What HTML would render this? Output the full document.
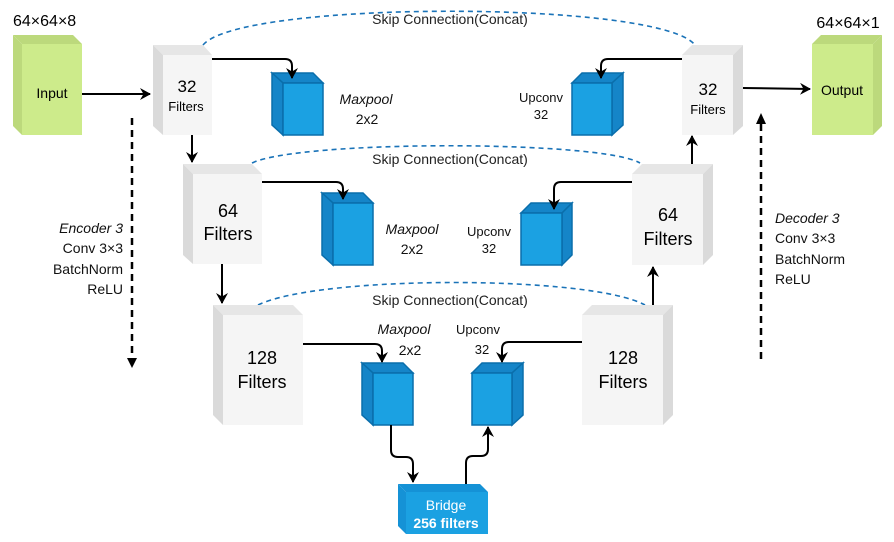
<!DOCTYPE html>
<html><head><meta charset="utf-8"><style>
html,body{margin:0;padding:0;background:#fff;}
svg{display:block;font-family:"Liberation Sans",sans-serif;}
.g1{fill:#f5f5f5}.g2{fill:#e6e6e6}.g3{fill:#dadada}
.b1{fill:#1ba1e2;stroke:#0a6eab;stroke-width:1.5}.b2{fill:#1585c8;stroke:#0a6eab;stroke-width:1.5}
.c1{fill:#cdeb8b}.c2{fill:#bcd97c}
.ln{fill:none;stroke:#000;stroke-width:2}
.sk{fill:none;stroke:#1a73b8;stroke-width:1.6;stroke-dasharray:5,4}
.dd{fill:none;stroke:#000;stroke-width:2.5;stroke-dasharray:7,5}
</style></head><body>
<svg width="894" height="542" viewBox="0 0 894 542">
<defs><marker id="a" markerWidth="12" markerHeight="12" refX="10" refY="6" orient="auto" markerUnits="userSpaceOnUse"><path d="M0,0 L11,6 L0,12 L3.5,6z" fill="#000"/></marker></defs>

<path class="sk" d="M203,45 C240,0 660,0 695,45"/>
<path class="sk" d="M252,163 C300,140 600,140 640,163"/>
<path class="sk" d="M258,305 C320,275 590,275 645,305"/>
<g font-size="14" fill="#222" text-anchor="middle">
<text x="450" y="24">Skip Connection(Concat)</text>
<text x="450" y="164">Skip Connection(Concat)</text>
<text x="450" y="305">Skip Connection(Concat)</text>
</g>

<polygon class="c2" points="13,35 73,35 82,44 22,44"/>
<polygon class="c2" points="13,35 22,44 22,135 13,126"/>
<rect class="c1" x="22" y="44" width="60" height="91"/>
<text x="52" y="98" font-size="14" text-anchor="middle">Input</text>
<text x="13" y="26" font-size="16">64×64×8</text>

<polygon class="c2" points="821,35 882,35 873,44 812,44"/>
<polygon class="c2" points="882,35 882,126 873,135 873,44"/>
<rect class="c1" x="812" y="44" width="61" height="91"/>
<text x="842" y="95" font-size="14" text-anchor="middle">Output</text>
<text x="848" y="28" font-size="16" text-anchor="middle">64×64×1</text>

<polygon class="g2" points="153,45 203,45 212,55 163,55"/>
<polygon class="g3" points="153,45 163,55 163,135 153,126"/>
<rect class="g1" x="163" y="55" width="49" height="80"/>
<text x="187" y="92" font-size="17" text-anchor="middle">32</text>
<text x="186" y="111" font-size="13" text-anchor="middle">Filters</text>

<polygon class="g2" points="692,45 743,45 733,55 682,55"/>
<polygon class="g3" points="743,45 743,126 733,135 733,55"/>
<rect class="g1" x="682" y="55" width="51" height="80"/>
<text x="708" y="95" font-size="17" text-anchor="middle">32</text>
<text x="708" y="114" font-size="13" text-anchor="middle">Filters</text>

<polygon class="g2" points="183,164 252,164 262,174 193,174"/>
<polygon class="g3" points="183,164 193,174 193,264 183,255"/>
<rect class="g1" x="193" y="174" width="69" height="90"/>
<text x="228" y="217" font-size="18" text-anchor="middle">64</text>
<text x="228" y="240" font-size="18" text-anchor="middle">Filters</text>

<polygon class="g2" points="642,164 713,164 703,174 632,174"/>
<polygon class="g3" points="713,164 713,255 703,265 703,174"/>
<rect class="g1" x="632" y="174" width="71" height="91"/>
<text x="668" y="221" font-size="18" text-anchor="middle">64</text>
<text x="668" y="245" font-size="18" text-anchor="middle">Filters</text>

<polygon class="g2" points="213,305 293,305 303,315 223,315"/>
<polygon class="g3" points="213,305 223,315 223,425 213,415"/>
<rect class="g1" x="223" y="315" width="80" height="110"/>
<text x="262" y="364" font-size="18" text-anchor="middle">128</text>
<text x="262" y="388" font-size="18" text-anchor="middle">Filters</text>

<polygon class="g2" points="592,305 673,305 663,315 582,315"/>
<polygon class="g3" points="673,305 673,415 663,425 663,315"/>
<rect class="g1" x="582" y="315" width="81" height="110"/>
<text x="623" y="364" font-size="18" text-anchor="middle">128</text>
<text x="623" y="388" font-size="18" text-anchor="middle">Filters</text>

<g>
<polygon class="b2" points="272,73 313,73 323,83 283,83"/><polygon class="b2" points="272,73 283,83 283,135 272,125"/><rect class="b1" x="283" y="83" width="40" height="52"/>
<polygon class="b2" points="322,193 363,193 373,203 333,203"/><polygon class="b2" points="322,193 333,203 333,265 322,255"/><rect class="b1" x="333" y="203" width="40" height="62"/>
<polygon class="b2" points="362,363 403,363 413,373 373,373"/><polygon class="b2" points="362,363 373,373 373,425 362,415"/><rect class="b1" x="373" y="373" width="40" height="52"/>
</g>
<g>
<polygon class="b2" points="582,73 623,73 612,83 572,83"/><polygon class="b2" points="623,73 623,125 612,135 612,83"/><rect class="b1" x="572" y="83" width="40" height="52"/>
<polygon class="b2" points="531,203 572,203 562,213 521,213"/><polygon class="b2" points="572,203 572,255 562,265 562,213"/><rect class="b1" x="521" y="213" width="41" height="52"/>
<polygon class="b2" points="482,363 523,363 512,373 472,373"/><polygon class="b2" points="523,363 523,415 512,425 512,373"/><rect class="b1" x="472" y="373" width="40" height="52"/>
</g>

<polygon fill="#1592d6" points="398,484 480,484 488,492 406,492"/>
<polygon fill="#1592d6" points="398,484 406,492 406,534 398,526"/>
<rect fill="#1ba1e2" x="406" y="492" width="82" height="42"/>
<text x="446" y="510" font-size="14" fill="#fff" text-anchor="middle">Bridge</text>
<text x="446" y="528" font-size="14" fill="#fff" text-anchor="middle" font-weight="bold">256 filters</text>

<g font-size="14" fill="#111">
<text x="366" y="104" text-anchor="middle" font-style="italic">Maxpool</text>
<text x="367" y="124" text-anchor="middle">2x2</text>
<text x="412" y="234" text-anchor="middle" font-style="italic">Maxpool</text>
<text x="412" y="254" text-anchor="middle">2x2</text>
<text x="404" y="334" text-anchor="middle" font-style="italic">Maxpool</text>
<text x="410" y="355" text-anchor="middle">2x2</text>
<text x="541" y="102" text-anchor="middle" font-size="13">Upconv</text>
<text x="541" y="119" text-anchor="middle" font-size="13">32</text>
<text x="489" y="236" text-anchor="middle" font-size="13">Upconv</text>
<text x="489" y="253" text-anchor="middle" font-size="13">32</text>
<text x="478" y="334" text-anchor="middle" font-size="13">Upconv</text>
<text x="482" y="354" text-anchor="middle" font-size="13">32</text>
<g text-anchor="end">
<text x="123" y="233" font-style="italic">Encoder 3</text>
<text x="123" y="253">Conv 3×3</text>
<text x="123" y="274">BatchNorm</text>
<text x="123" y="294">ReLU</text>
</g>
<text x="775" y="223" font-style="italic">Decoder 3</text>
<text x="775" y="243">Conv 3×3</text>
<text x="775" y="264">BatchNorm</text>
<text x="775" y="284">ReLU</text>
</g>

<path class="ln" d="M82,94 L150,94" marker-end="url(#a)"/>
<path class="ln" d="M212,59 L285,59 Q292,59 292,66 L292,78" marker-end="url(#a)"/>
<path class="ln" d="M682,59 L608,59 Q601,59 601,66 L601,78" marker-end="url(#a)"/>
<path class="ln" d="M743,88 L810,89" marker-end="url(#a)"/>
<path class="ln" d="M192,135 L192,162" marker-end="url(#a)"/>
<path class="ln" d="M262,182 L336,182 Q343,182 343,189 L343,199" marker-end="url(#a)"/>
<path class="ln" d="M632,182 L561,182 Q554,182 554,189 L554,209" marker-end="url(#a)"/>
<path class="ln" d="M692,164 L692,136" marker-end="url(#a)"/>
<path class="ln" d="M222,264 L222,303" marker-end="url(#a)"/>
<path class="ln" d="M653,305 L653,267" marker-end="url(#a)"/>
<path class="ln" d="M303,344 L375,344 Q382,344 382,351 L382,362" marker-end="url(#a)"/>
<path class="ln" d="M582,342 L509,342 Q502,342 502,349 L502,362" marker-end="url(#a)"/>
<path class="ln" d="M391,425 L391,450 Q391,457 398,457 L406,457 Q413,457 413,464 L413,482" marker-end="url(#a)"/>
<path class="ln" d="M466,484 L466,463 Q466,456 473,456 L481,456 Q488,456 488,449 L488,427" marker-end="url(#a)"/>
<path class="dd" d="M132,118 L132,360"/>
<path d="M127,358 L132,368 L137,358 Z" fill="#000"/>
<path class="dd" d="M761,124 L761,360"/>
<path d="M756,124 L761,113 L766,124 Z" fill="#000"/>
</svg>
</body></html>
